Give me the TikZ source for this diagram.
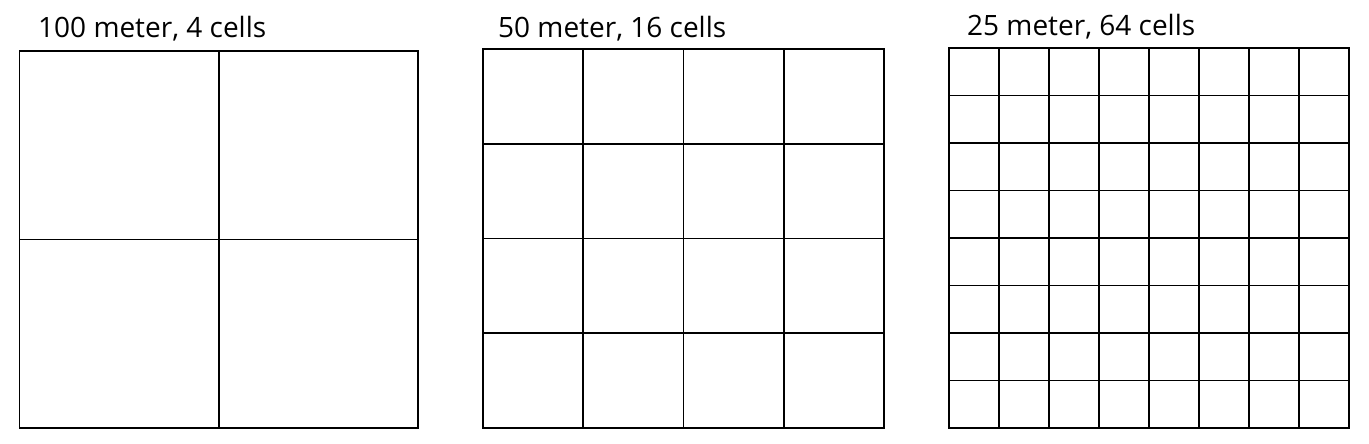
\documentclass[tikz,border=0pt]{standalone}
\usepackage{fontspec}
\setmainfont{Open Sans}
\begin{document}
\begin{tikzpicture}[x=1pt,y=-1pt,
  gridline/.style={line width=1.7pt,black},
  lbl/.style={anchor=base west,inner sep=0pt,font=\fontsize{28}{32}\selectfont}]
\useasboundingbox (0,0) rectangle (1369,444);
% labels
\node[lbl] (l1) at (38,38) {100 meter, 4 cells};
\node[lbl] (l2) at (498,38) {50 meter, 16 cells};
\node[lbl] (l3) at (967,36) {25 meter, 64 cells};
% grid 1
\draw[gridline] (19.5,51) rectangle (418,428);
\draw[gridline] (219,51) -- (219,428);
\draw[gridline] (19.5,239.5) -- (418,239.5);
% grid 2
\draw[gridline] (483,49) rectangle (884,428);
\foreach \i in {1,2,3} {
  \draw[gridline] ({483+\i*100.25},49) -- ({483+\i*100.25},428);
  \draw[gridline] (483,{49+\i*94.75}) -- (884,{49+\i*94.75});
}
% grid 3
\draw[gridline] (949,48) rectangle (1349,428);
\foreach \i in {1,...,7} {
  \draw[gridline] ({949+\i*50},48) -- ({949+\i*50},428);
  \draw[gridline] (949,{48+\i*47.5}) -- (1349,{48+\i*47.5});
}
\end{tikzpicture}
\end{document}
